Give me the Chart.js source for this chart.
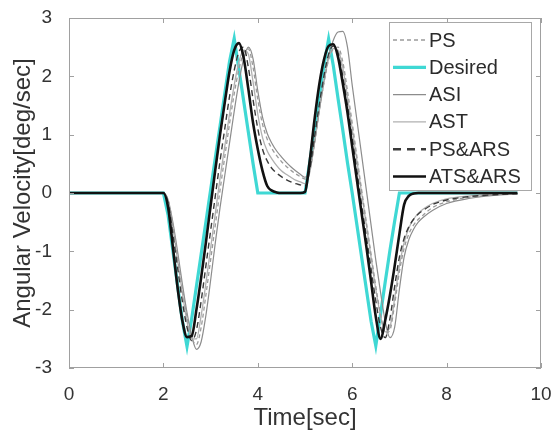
<!DOCTYPE html>
<html>
<head>
<meta charset="utf-8">
<title>Angular velocity</title>
<script src="https://cdn.jsdelivr.net/npm/chart.js@4.4.1/dist/chart.umd.min.js"></script>
<style>
  html, body { margin: 0; padding: 0; background: #fff; }
  #wrap { position: relative; width: 554px; height: 440px; }
</style>
</head>
<body>
<div id="wrap"><canvas id="velChart"></canvas></div>
<script>
// time samples [sec]
var time = [0,
  2.0, 2.1, 2.2, 2.3, 2.4, 2.5, 2.6, 2.7, 2.8, 2.9,
  3.0, 3.1, 3.2, 3.3, 3.4, 3.5, 3.6, 3.7, 3.8, 3.9,
  4.0, 4.1, 4.2, 4.3, 4.4, 4.5, 4.6, 4.7, 4.8, 4.9,
  5.0, 5.1, 5.2, 5.3, 5.4, 5.5, 5.6, 5.7, 5.8, 5.9,
  6.0, 6.1, 6.2, 6.3, 6.4, 6.5, 6.6, 6.7, 6.8, 6.9,
  7.0, 7.1, 7.2, 7.3, 7.4, 7.5,
  7.7, 8.0, 8.5, 9.0, 9.5];

// angular velocity [deg/sec] per controller
var ps = [0,
  0, -0.12, -0.55, -1.08, -1.62, -2.12, -2.48, -2.6, -2.3, -1.75,
  -1.15, -0.55, 0.05, 0.62, 1.18, 1.7, 2.12, 2.4, 2.47, 2.15,
  1.6, 1.18, 0.92, 0.76, 0.64, 0.54, 0.46, 0.39, 0.33, 0.28,
  0.24, 0.38, 0.85, 1.4, 1.88, 2.28, 2.47, 2.5, 2.25, 1.75,
  1.2, 0.62, 0.05, -0.5, -1.05, -1.6, -2.08, -2.4, -2.35, -1.9,
  -1.35, -0.95, -0.7, -0.55, -0.45, -0.38,
  -0.25, -0.15, -0.07, -0.03, -0.01];

var desired = [0,
  0, -0.38, -0.98, -1.58, -2.18, -2.63, -2.15, -1.6, -1.05, -0.5,
  0.05, 0.6, 1.15, 1.7, 2.25, 2.65, 2.12, 1.58, 1.04, 0.5,
  0, 0, 0, 0, 0, 0, 0, 0, 0, 0,
  0, 0.52, 1.08, 1.62, 2.18, 2.64, 2.18, 1.62, 1.08, 0.52,
  0, -0.55, -1.1, -1.65, -2.2, -2.62, -2.08, -1.52, -0.98, -0.48,
  0, 0, 0, 0, 0, 0,
  0, 0, 0, 0, 0];

var asi = [0,
  0, -0.12, -0.5, -1.0, -1.55, -2.05, -2.45, -2.68, -2.55, -2.1,
  -1.5, -0.85, -0.25, 0.3, 0.85, 1.4, 1.9, 2.3, 2.5, 2.3,
  1.75, 1.3, 1.02, 0.85, 0.72, 0.62, 0.53, 0.45, 0.38, 0.32,
  0.27, 0.4, 0.85, 1.4, 1.9, 2.35, 2.62, 2.76, 2.77, 2.5,
  1.85, 1.25, 0.65, 0.05, -0.55, -1.15, -1.7, -2.2, -2.48, -2.3,
  -1.65, -1.1, -0.8, -0.62, -0.5, -0.42,
  -0.3, -0.18, -0.09, -0.04, -0.02];

var ast = [0,
  0, -0.15, -0.6, -1.15, -1.7, -2.2, -2.5, -2.5, -2.1, -1.55,
  -0.95, -0.35, 0.25, 0.8, 1.35, 1.85, 2.25, 2.45, 2.38, 1.9,
  1.35, 0.95, 0.72, 0.58, 0.47, 0.38, 0.32, 0.27, 0.22, 0.19,
  0.16, 0.35, 0.85, 1.4, 1.9, 2.3, 2.48, 2.45, 2.15, 1.65,
  1.1, 0.55, 0.0, -0.55, -1.1, -1.65, -2.1, -2.38, -2.3, -1.8,
  -1.25, -0.85, -0.6, -0.45, -0.35, -0.28,
  -0.18, -0.1, -0.05, -0.02, -0.01];

var psArs = [0,
  0, -0.18, -0.7, -1.28, -1.85, -2.3, -2.53, -2.35, -1.85, -1.25,
  -0.65, -0.05, 0.55, 1.1, 1.65, 2.1, 2.42, 2.5, 2.15, 1.6,
  1.1, 0.75, 0.55, 0.42, 0.34, 0.28, 0.23, 0.19, 0.16, 0.14,
  0.12, 0.4, 0.95, 1.5, 2.0, 2.38, 2.52, 2.4, 2.0, 1.5,
  0.95, 0.38, -0.2, -0.75, -1.3, -1.85, -2.3, -2.48, -2.15, -1.6,
  -1.1, -0.78, -0.58, -0.45, -0.36, -0.3,
  -0.2, -0.12, -0.06, -0.03, -0.01];

var atsArs = [0,
  0, -0.25, -0.92, -1.62, -2.18, -2.47, -2.45, -2.0, -1.45, -0.85,
  -0.22, 0.4, 1.0, 1.55, 2.08, 2.45, 2.57, 2.32, 1.78, 1.2,
  0.75, 0.38, 0.12, 0.04, 0.01, 0, 0, 0, 0, 0,
  0.02, 0.55, 1.25, 1.85, 2.28, 2.52, 2.55, 2.33, 1.88, 1.38,
  0.8, 0.22, -0.35, -0.92, -1.52, -2.12, -2.5, -2.18, -1.75, -1.25,
  -0.7, -0.2, -0.05, -0.01, 0, 0,
  0, 0, 0, 0, 0];

var xTicks = [0, 2, 4, 6, 8, 10];
var yTicks = [-3, -2, -1, 0, 1, 2, 3];

function pts(vals) {
  return time.map(function (t, i) { return { x: t, y: vals[i] }; });
}

Chart.defaults.font.family = "'Liberation Sans', Arial, sans-serif";
Chart.defaults.color = '#333';

// box around the axes, inward ticks and the legend inside the plot
var boxPlugin = {
  id: 'boxPlugin',
  afterDatasetsDraw: function (chart) {
    var ctx = chart.ctx, a = chart.chartArea;
    var xs = chart.scales.x, ys = chart.scales.y;
    ctx.save();
    ctx.strokeStyle = '#a0a0a0';
    ctx.lineWidth = 1;
    ctx.strokeRect(Math.round(a.left) + 0.5, Math.round(a.top) + 0.5,
      Math.round(a.width) - 1, Math.round(a.height) - 1);
    ctx.beginPath();
    xTicks.forEach(function (v) {
      var px = Math.round(xs.getPixelForValue(v)) + 0.5;
      ctx.moveTo(px, a.bottom); ctx.lineTo(px, a.bottom - 5);
      ctx.moveTo(px, a.top); ctx.lineTo(px, a.top + 5);
    });
    yTicks.forEach(function (v) {
      var py = Math.round(ys.getPixelForValue(v)) + 0.5;
      ctx.moveTo(a.left, py); ctx.lineTo(a.left + 5, py);
      ctx.moveTo(a.right, py); ctx.lineTo(a.right - 5, py);
    });
    ctx.stroke();

    // legend
    var lx = a.right - 152, ly = a.top + 4, lw = 142, lh = 168;
    ctx.fillStyle = '#fff';
    ctx.fillRect(lx, ly, lw, lh);
    ctx.strokeStyle = '#a8a8a8';
    ctx.strokeRect(lx + 0.5, ly + 0.5, lw, lh);
    ctx.font = "20px 'Liberation Sans', Arial, sans-serif";
    ctx.textBaseline = 'middle';
    ctx.textAlign = 'left';
    chart.data.datasets.forEach(function (ds, i) {
      var cy = ly + 18 + i * 27.3;
      ctx.beginPath();
      ctx.strokeStyle = ds.borderColor;
      ctx.lineWidth = ds.legendWidth || ds.borderWidth;
      ctx.setLineDash(ds.legendDash || []);
      ctx.moveTo(lx + 4, cy);
      ctx.lineTo(lx + 37, cy);
      ctx.stroke();
      ctx.setLineDash([]);
      ctx.fillStyle = '#2b2b2b';
      ctx.fillText(ds.label, lx + 40, cy + 1);
    });
    ctx.restore();
  }
};

new Chart(document.getElementById('velChart').getContext('2d'), {
  type: 'line',
  data: {
    datasets: [
      { label: 'PS', data: pts(ps), borderColor: '#9a9a9a', borderWidth: 1.3,
        borderDash: [4, 3], legendDash: [4, 3], order: 2 },
      { label: 'Desired', data: pts(desired), borderColor: '#3fd8d4', borderWidth: 3.2,
        tension: 0, cubicInterpolationMode: 'default', order: 5 },
      { label: 'ASI', data: pts(asi), borderColor: '#8c8c8c', borderWidth: 1.2, order: 4 },
      { label: 'AST', data: pts(ast), borderColor: '#b0b0b0', borderWidth: 1.3, order: 3 },
      { label: 'PS&ARS', data: pts(psArs), borderColor: '#3a3a3a', borderWidth: 1.4,
        borderDash: [6, 4], legendDash: [8, 6], legendWidth: 2.6, order: 1 },
      { label: 'ATS&ARS', data: pts(atsArs), borderColor: '#111', borderWidth: 2.6, order: 0 }
    ]
  },
  options: {
    responsive: true,
    maintainAspectRatio: false,
    animation: false,
    layout: { padding: { top: 18, right: 13, left: 0, bottom: 0 } },
    elements: {
      point: { radius: 0 },
      line: { cubicInterpolationMode: 'monotone', fill: false }
    },
    plugins: {
      legend: { display: false },
      tooltip: { enabled: false }
    },
    scales: {
      x: {
        type: 'linear', min: 0, max: 10,
        grid: { display: false },
        border: { display: false },
        afterBuildTicks: function (s) { s.ticks = xTicks.map(function (v) { return { value: v }; }); },
        afterFit: function (s) { s.height = 72; s.paddingLeft = 0; s.paddingRight = 0; },
        ticks: { padding: 7, font: { size: 19 }, color: '#333', maxRotation: 0 },
        title: { display: true, text: 'Time[sec]', font: { size: 24 }, color: '#333',
                 padding: { top: 0, bottom: 7 } }
      },
      y: {
        type: 'linear', min: -3, max: 3,
        grid: { display: false },
        border: { display: false },
        afterBuildTicks: function (s) { s.ticks = yTicks.map(function (v) { return { value: v }; }); },
        afterFit: function (s) { s.width = 69; s.paddingTop = 0; s.paddingBottom = 0; },
        ticks: { padding: 9, font: { size: 19 }, color: '#333' },
        title: { display: true, text: 'Angular Velocity[deg/sec]', font: { size: 24 }, color: '#333',
                 padding: { top: 9, bottom: 0 } }
      }
    }
  },
  plugins: [boxPlugin]
});
</script>
</body>
</html>
